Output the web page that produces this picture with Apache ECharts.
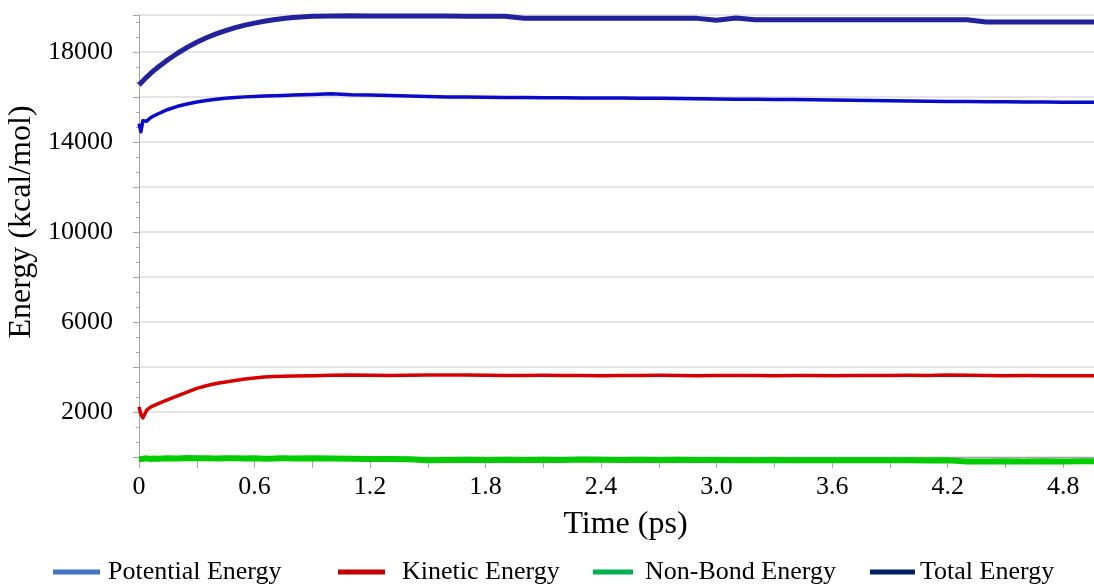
<!DOCTYPE html>
<html>
<head>
<meta charset="utf-8">
<script src="https://cdn.jsdelivr.net/npm/echarts@6/dist/echarts.min.js"></script>
<style>
  html, body { margin: 0; padding: 0; background: #ffffff; }
  #chart { width: 1094px; height: 587px; }
</style>
</head>
<body>
<div id="chart"></div>
<script>
// Simulation time (ps)
const timePs = [0, 0.01, 0.02, 0.04, 0.06, 0.08,
  0.1, 0.15, 0.2, 0.25, 0.3, 0.35, 0.4, 0.45, 0.5, 0.55, 0.6, 0.65, 0.7, 0.75, 0.8,
  0.9, 1.0, 1.1, 1.2, 1.3, 1.4, 1.5, 1.6, 1.7, 1.8, 1.9,
  2.0, 2.1, 2.2, 2.3, 2.4, 2.5, 2.6, 2.7, 2.8, 2.9,
  3.0, 3.1, 3.2, 3.3, 3.4, 3.5, 3.6, 3.7, 3.8, 3.9,
  4.0, 4.1, 4.2, 4.3, 4.4, 4.5, 4.6, 4.7, 4.8, 4.9, 4.96];

// Energies (kcal/mol)
const potentialEnergy = [14820, 14460, 14950, 14930, 15080, 15180,
  15260, 15450, 15590, 15690, 15780, 15850, 15905, 15950, 15985, 16010, 16030, 16050, 16060, 16075, 16090,
  16120, 16150, 16110, 16090, 16070, 16050, 16030, 16010, 16000, 15990, 15985,
  15980, 15975, 15970, 15965, 15960, 15955, 15950, 15945, 15940, 15930,
  15920, 15910, 15900, 15895, 15890, 15880, 15870, 15860, 15850, 15840,
  15830, 15820, 15810, 15800, 15795, 15790, 15785, 15780, 15775, 15770, 15770];

const kineticEnergy = [2230, 1900, 1740, 2080, 2220, 2300,
  2370, 2550, 2720, 2880, 3050, 3170, 3265, 3335, 3400, 3465, 3510, 3555, 3575, 3590, 3600,
  3615, 3630, 3640, 3630, 3620, 3635, 3640, 3650, 3640, 3630, 3625,
  3620, 3630, 3625, 3620, 3615, 3625, 3620, 3630, 3625, 3615,
  3620, 3625, 3620, 3615, 3625, 3620, 3615, 3620, 3625, 3620,
  3630, 3625, 3640, 3630, 3620, 3615, 3620, 3610, 3615, 3610, 3610];

const nonBondEnergy = [-90, -70, -80, -60, -90, -70,
  -80, -60, -70, -40, -60, -50, -70, -60, -50, -70, -60, -80, -70, -50, -70,
  -60, -70, -80, -90, -90, -100, -140, -130, -120, -130, -120,
  -130, -120, -130, -110, -120, -130, -120, -130, -120, -130,
  -130, -140, -140, -130, -150, -140, -140, -150, -150, -140,
  -150, -160, -150, -200, -200, -190, -200, -190, -200, -190, -190];

const totalEnergy = [16540, 16630, 16720, 16890, 17050, 17200,
  17340, 17660, 17950, 18210, 18440, 18640, 18810, 18960, 19090, 19200, 19290, 19370, 19440, 19495, 19540,
  19590, 19610, 19620, 19610, 19610, 19600, 19600, 19600, 19595, 19595, 19590,
  19505, 19500, 19500, 19500, 19500, 19500, 19500, 19500, 19500, 19500,
  19420, 19515, 19440, 19440, 19440, 19440, 19440, 19440, 19440, 19440,
  19440, 19440, 19440, 19440, 19340, 19335, 19335, 19335, 19335, 19335, 19335];

const seriesNames = ['Potential Energy', 'Kinetic Energy', 'Non-Bond Energy', 'Total Energy'];
const lineColors = ['#0a0ac8', '#d40000', '#00cc00', '#22229a'];
const legendColors = ['#4472C4', '#C00000', '#00B050', '#002060'];

const FONT = '"Liberation Serif", "Times New Roman", serif';

const pairs = (ys) => timePs.map((t, i) => [t, ys[i]]);
const values = [potentialEnergy, kineticEnergy, nonBondEnergy, totalEnergy];
const widths = [3.5, 3.5, 6, 5];

const legendSpec = [
  { left: 53, width: 47, pad: 3 },
  { left: 338, width: 47, pad: 12 },
  { left: 593, width: 40, pad: 7 },
  { left: 870, width: 45, pad: 0 }
];

const chart = echarts.init(document.getElementById('chart'), null, { renderer: 'canvas' });

chart.setOption({
  animation: false,
  backgroundColor: '#ffffff',
  grid: { left: 139, right: 0, top: 15, bottom: 130, containLabel: false, outerBoundsMode: 'none' },
  legend: legendSpec.map((s, i) => ({
    show: true,
    left: s.left,
    top: 559,
    padding: 0,
    icon: 'rect',
    itemWidth: s.width,
    itemHeight: 5,
    selectedMode: false,
    textStyle: { fontFamily: FONT, fontSize: 26, color: '#000', padding: [0, 0, 0, s.pad] },
    data: [{ name: seriesNames[i], itemStyle: { color: legendColors[i] } }]
  })),
  xAxis: {
    type: 'value',
    min: 0,
    max: 4.96,
    interval: 0.3,
    offset: 6,
    name: 'Time (ps)',
    nameLocation: 'middle',
    nameGap: 46,
    nameTextStyle: { fontFamily: FONT, fontSize: 32, color: '#000', padding: [0, 0, 0, 18] },
    axisLine: { show: true, lineStyle: { color: '#a6a6a6', width: 1 } },
    axisTick: { show: true, length: 11, lineStyle: { color: '#a6a6a6' } },
    minorTick: { show: true, splitNumber: 5, length: 4, lineStyle: { color: '#a6a6a6' } },
    splitLine: { show: false },
    axisLabel: {
      fontFamily: FONT, fontSize: 26, color: '#000', margin: 11,
      formatter: (v) => {
        const k = Math.round(v / 0.3);
        if (Math.abs(v - k * 0.3) > 1e-6 || k % 2 !== 0) return '';
        return k === 0 ? '0' : (k * 0.3).toFixed(1);
      }
    }
  },
  yAxis: {
    type: 'value',
    min: 0,
    max: 19650,
    interval: 2000,
    name: 'Energy (kcal/mol)',
    nameLocation: 'middle',
    nameGap: 88,
    nameTextStyle: { fontFamily: FONT, fontSize: 32, color: '#000', padding: [0, 0, 0, 28] },
    axisLine: { show: true, lineStyle: { color: '#a6a6a6', width: 1 } },
    axisTick: { show: true, length: 6, lineStyle: { color: '#a6a6a6' } },
    minorTick: { show: true, splitNumber: 3, length: 3, lineStyle: { color: '#a6a6a6' } },
    splitLine: { show: true, lineStyle: { color: '#dcdcdc', width: 1.5 } },
    axisLabel: {
      fontFamily: FONT, fontSize: 26, color: '#000', margin: 26,
      formatter: (v) => (v % 4000 === 2000 ? String(v) : '')
    }
  },
  series: seriesNames.map((name, i) => ({
    name: name,
    type: 'line',
    data: pairs(values[i]),
    showSymbol: false,
    symbol: 'none',
    clip: false,
    color: lineColors[i],
    lineStyle: { color: lineColors[i], width: widths[i], join: 'round' },
    z: 3
  }))
});
</script>
</body>
</html>
